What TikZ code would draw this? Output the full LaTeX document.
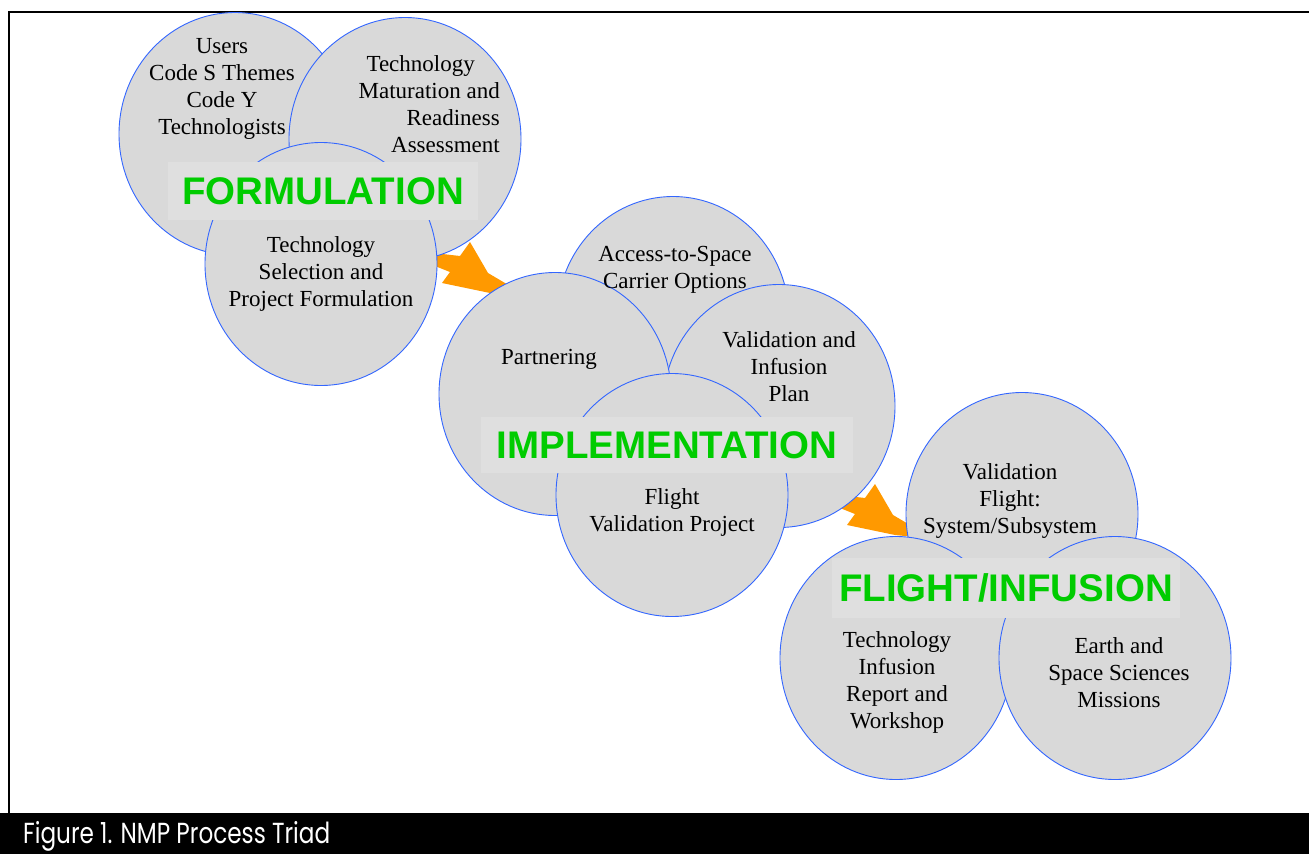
\documentclass[tikz,border=0pt]{standalone}
\usepackage{fontspec}
\setmainfont{Liberation Serif}
\newfontfamily\labelfont{Liberation Sans}
\newfontfamily\capfont{Poppins}
\usetikzlibrary{shapes.geometric}
\definecolor{circfill}{HTML}{D9D9D9}
\definecolor{boxfill}{HTML}{DFDFDF}
\definecolor{circblue}{HTML}{3366FF}
\definecolor{labgreen}{HTML}{00CC00}
\definecolor{arroworange}{HTML}{FF9900}
\newcommand{\mylinesc}[1]{\begin{tabular}[t]{@{}c@{}}#1\end{tabular}}
\newcommand{\mylinesr}[1]{\begin{tabular}[t]{@{}r@{}}#1\end{tabular}}
\tikzset{
  circ/.style={ellipse, draw=circblue, fill=circfill, line width=0.9pt,
    minimum width=232pt, minimum height=243pt, inner sep=0pt},
  ctext/.style={inner sep=0pt, anchor=base, font=\fontsize{23}{27}\selectfont},
  labelbox/.style={fill=boxfill, inner sep=0pt, text=labgreen,
    font=\labelfont\bfseries\fontsize{38.5}{40}\selectfont,
    text height=27.6pt, text depth=0pt},
  blockarrow/.style={fill=arroworange},
  frameline/.style={line width=2.2pt, black}
}
\begin{document}
\begin{tikzpicture}[x=1pt, y=-1pt]
\useasboundingbox (0,0) rectangle (1309,854);
\fill[white] (0,0) rectangle (1309,854);
% frame
\draw[frameline] (8,12) -- (1309,12);
\draw[frameline] (9,11) -- (9,814);
% caption bar
\fill[black] (0,813) rectangle (1309,854);
\node[anchor=base west, text=white, inner sep=0pt,
  font=\capfont\fontsize{29}{30}\selectfont] (caption) at (23,843)
  {\resizebox{307pt}{\height}{Figure 1. NMP Process Triad}};
% arrows (behind the circles)
\fill[blockarrow] (425,252) -- (460,256) -- (470,242) -- (488,273) -- (505,283)
  -- (520,296) -- (490,293) -- (442,283) -- (450,272) -- (425,262) -- cycle;
\begin{scope}[shift={(405,242)}]
\fill[blockarrow] (425,252) -- (460,256) -- (470,242) -- (488,273) -- (505,283)
  -- (520,296) -- (490,293) -- (442,283) -- (450,272) -- (425,262) -- cycle;
\end{scope}
% formulation
\node[circ] (users) at (235,134) {};
\node[circ] (matur) at (405,139) {};
\node[circ] (select) at (321,264) {};
\node[labelbox, minimum width=310pt, minimum height=58pt] (form) at (323,191) {FORMULATION};
% implementation
\node[circ] (access) at (673,318) {};
\node[circ] (valid) at (779,406) {};
\node[circ] (partner) at (555,394) {};
\node[circ] (flightp) at (672,495) {};
\node[labelbox, minimum width=372pt, minimum height=56pt] (impl) at (667,445) {IMPLEMENTATION};
% flight/infusion
\node[circ] (vflight) at (1022,514) {};
\node[circ] (infusion) at (896,658) {};
\node[circ] (earth) at (1115,658) {};
\node[labelbox, minimum width=348pt, minimum height=60pt] (fli) at (1006,588) {FLIGHT/INFUSION};
% texts
\node[ctext] (t-users) at (222,53) {\mylinesc{Users\\Code S Themes\\Code Y\\Technologists}};
\node[ctext, anchor=base east] (t-matur) at (500,71) {\mylinesr{Technology\hspace*{25pt}\\Maturation and\\Readiness\\Assessment}};
\node[ctext] (t-select) at (321,252) {\mylinesc{Technology\\Selection and\\Project Formulation}};
\node[ctext] (t-access) at (675,261) {\mylinesc{Access-to-Space\\Carrier Options}};
\node[ctext] (t-partner) at (549,364) {Partnering};
\node[ctext] (t-valid) at (789,347) {\mylinesc{Validation and\\Infusion\\Plan}};
\node[ctext] (t-flightp) at (672,504) {\mylinesc{Flight\\Validation Project}};
\node[ctext] (t-vflight) at (1010,479) {\mylinesc{Validation\\Flight:\\System/Subsystem}};
\node[ctext] (t-infusion) at (897,647) {\mylinesc{Technology\\Infusion\\Report and\\Workshop}};
\node[ctext] (t-earth) at (1119,653) {\mylinesc{Earth and\\Space Sciences\\Missions}};
\end{tikzpicture}
\end{document}
